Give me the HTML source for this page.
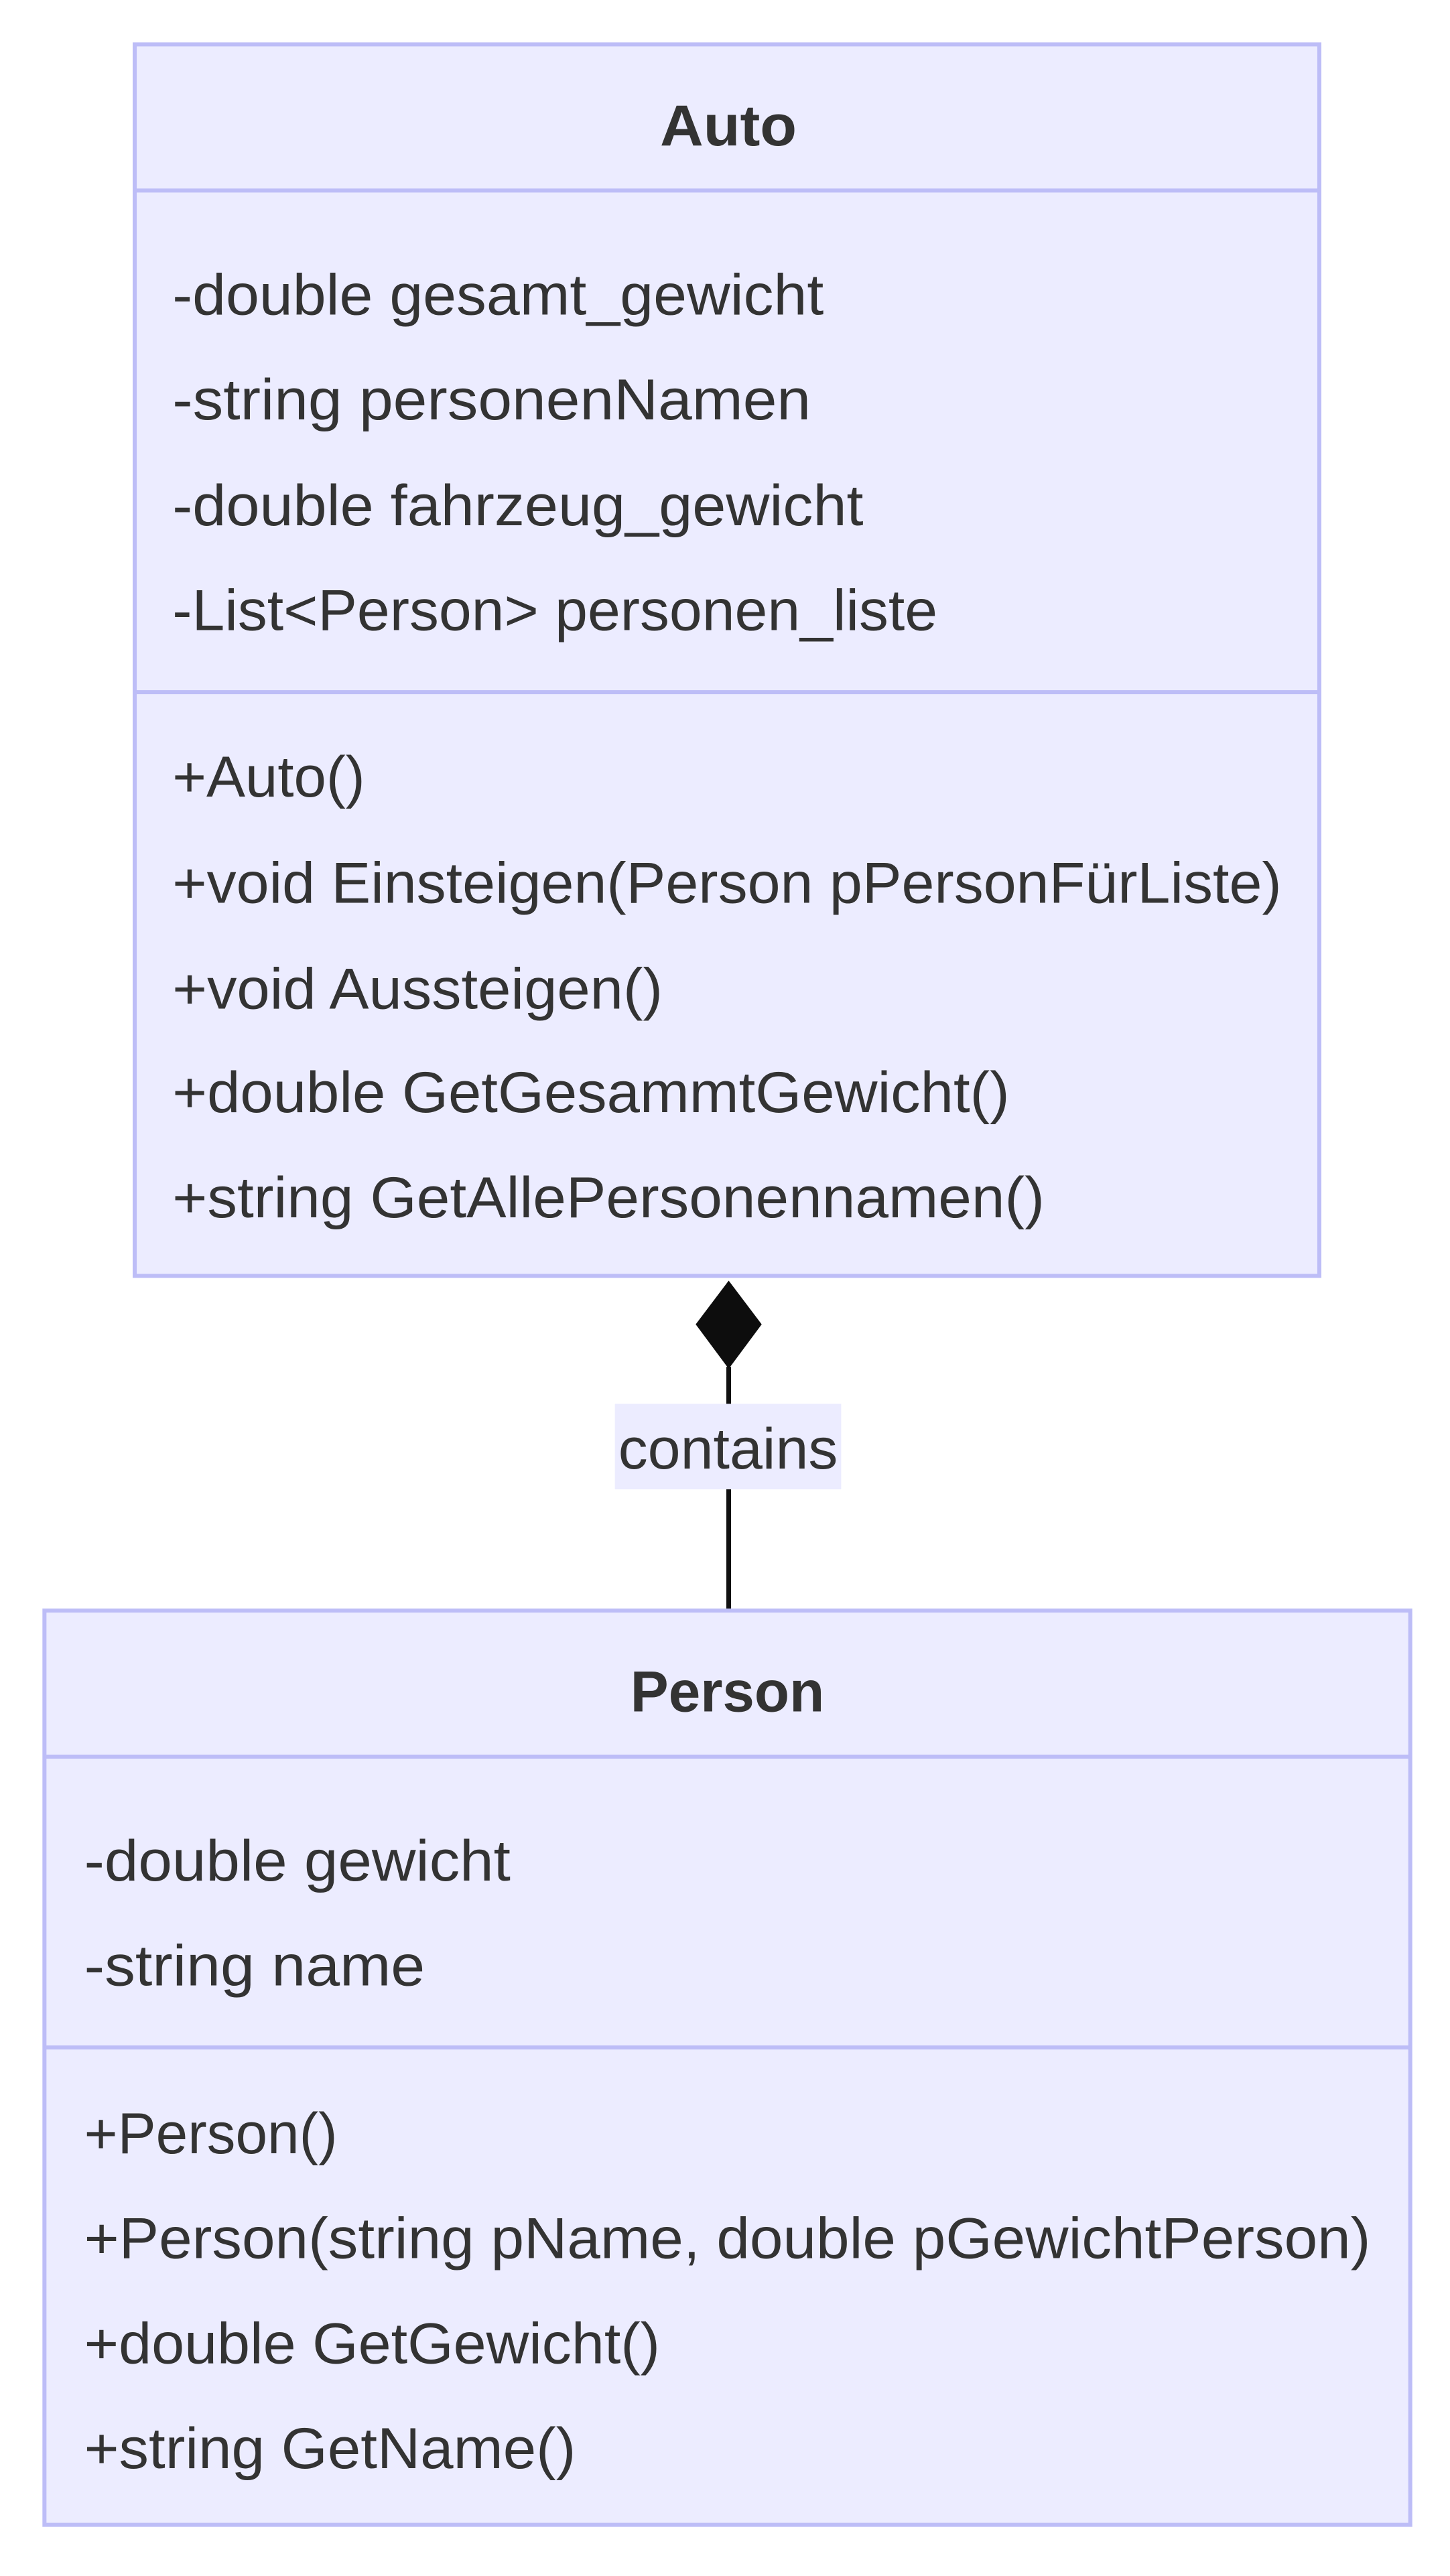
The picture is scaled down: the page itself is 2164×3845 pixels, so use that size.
<!DOCTYPE html>
<html><head><meta charset="utf-8"><style>html,body{margin:0;padding:0;background:#fff}</style></head>
<body>
<svg width="2164" height="3840" viewBox="0 0 2153 3821" preserveAspectRatio="none" xmlns="http://www.w3.org/2000/svg" font-family="'Liberation Sans', sans-serif" fill="#333">
<rect x="0" y="0" width="2153" height="3821" fill="#fff"/>
<!-- Auto -->
<rect x="200" y="66" width="1759" height="1829" fill="#ECECFF" stroke="#BDBDF7" stroke-width="6"/>
<line x1="200" y1="283" x2="1959" y2="283" stroke="#BDBDF7" stroke-width="6"/>
<line x1="200" y1="1028" x2="1959" y2="1028" stroke="#BDBDF7" stroke-width="6"/>
<g font-size="86">
<text x="980" y="216" font-weight="bold" textLength="203" lengthAdjust="spacingAndGlyphs">Auto</text>
<text x="256" y="467" textLength="967" lengthAdjust="spacingAndGlyphs">-double gesamt_gewicht</text>
<text x="256" y="623" textLength="948" lengthAdjust="spacingAndGlyphs">-string personenNamen</text>
<text x="256" y="780" textLength="1026" lengthAdjust="spacingAndGlyphs">-double fahrzeug_gewicht</text>
<text x="256" y="936" textLength="1136" lengthAdjust="spacingAndGlyphs">-List&lt;Person&gt; personen_liste</text>
<text x="256" y="1183" textLength="286" lengthAdjust="spacingAndGlyphs">+Auto()</text>
<text x="256" y="1341" textLength="1647" lengthAdjust="spacingAndGlyphs">+void Einsteigen(Person pPersonFürListe)</text>
<text x="256" y="1498" textLength="728" lengthAdjust="spacingAndGlyphs">+void Aussteigen()</text>
<text x="256" y="1652" textLength="1243" lengthAdjust="spacingAndGlyphs">+double GetGesammtGewicht()</text>
<text x="256" y="1808" textLength="1295" lengthAdjust="spacingAndGlyphs">+string GetAllePersonennamen()</text>
</g>
<!-- connector -->
<line x1="1082" y1="2030" x2="1082" y2="2392" stroke="#111" stroke-width="7"/>
<polygon points="1082,1902 1131,1967 1082,2033 1033,1967" fill="#0d0d0d"/>
<rect x="913" y="2085" width="336" height="127" fill="#ECECFF"/>
<text x="918" y="2181" font-size="86" textLength="326" lengthAdjust="spacingAndGlyphs">contains</text>
<!-- Person -->
<rect x="66" y="2392" width="2028" height="1358" fill="#ECECFF" stroke="#BDBDF7" stroke-width="6"/>
<line x1="66" y1="2609" x2="2094" y2="2609" stroke="#BDBDF7" stroke-width="6"/>
<line x1="66" y1="3041" x2="2094" y2="3041" stroke="#BDBDF7" stroke-width="6"/>
<g font-size="86">
<text x="936" y="2542" font-weight="bold" textLength="288" lengthAdjust="spacingAndGlyphs">Person</text>
<text x="125" y="2793" textLength="633" lengthAdjust="spacingAndGlyphs">-double gewicht</text>
<text x="125" y="2949" textLength="506" lengthAdjust="spacingAndGlyphs">-string name</text>
<text x="125" y="3198" textLength="376" lengthAdjust="spacingAndGlyphs">+Person()</text>
<text x="125" y="3354" textLength="1910" lengthAdjust="spacingAndGlyphs">+Person(string pName, double pGewichtPerson)</text>
<text x="125" y="3510" textLength="855" lengthAdjust="spacingAndGlyphs">+double GetGewicht()</text>
<text x="125" y="3666" textLength="730" lengthAdjust="spacingAndGlyphs">+string GetName()</text>
</g>
</svg>
</body></html>
